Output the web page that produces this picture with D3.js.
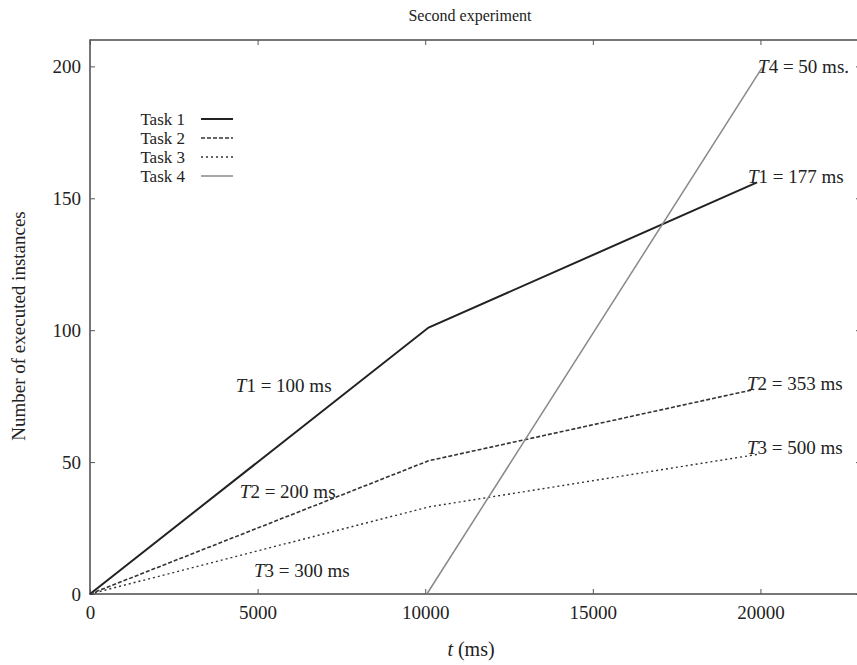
<!DOCTYPE html>
<html>
<head>
<meta charset="utf-8">
<script src="https://cdn.jsdelivr.net/npm/d3@7"></script>
<style>
  body { margin: 0; background: #fff; }
  text { font-family: "Liberation Serif", "DejaVu Serif", serif; fill: #222; }
</style>
</head>
<body>
<script>
var W = 857, H = 665;

// data
var tasks = ["Task 1", "Task 2", "Task 3", "Task 4"];
var task1 = [[0, 0], [10100, 101], [19900, 156]];
var task2 = [[0, 0], [10100, 50.5], [19800, 77.5]];
var task3 = [[0, 0], [10100, 33], [19950, 53]];
var task4 = [[10050, 0], [20050, 199.5]];
var xTicks = [0, 5000, 10000, 15000, 20000];
var yTicks = [0, 50, 100, 150, 200];
var notes = [
  {t: "1", v: "100 ms", x: 4350, y: 76.5},
  {t: "2", v: "200 ms", x: 4470, y: 36.4},
  {t: "3", v: "300 ms", x: 4890, y: 6.4},
  {t: "1", v: "177 ms", x: 19630, y: 155.8},
  {t: "2", v: "353 ms", x: 19600, y: 77.3},
  {t: "3", v: "500 ms", x: 19600, y: 53.1},
  {t: "4", v: "50 ms.", x: 19930, y: 197.5}
];

var styles = [
  {stroke: "#222", width: 2, dash: null},
  {stroke: "#333", width: 1.6, dash: "4,2"},
  {stroke: "#333", width: 1.4, dash: "2,3"},
  {stroke: "#888", width: 1.5, dash: null}
];

var svg = d3.select("body").append("svg")
  .attr("width", W).attr("height", H);

var x = d3.scaleLinear().domain([0, 23000]).range([90, 861]);
var y = d3.scaleLinear().domain([0, 210]).range([594, 40]);

// axes with inward ticks, mirrored on top/right
svg.append("g").attr("transform", "translate(0,594)")
  .call(d3.axisBottom(x).tickValues(xTicks).tickFormat(d3.format("d"))
    .tickSizeInner(-5).tickSizeOuter(0).tickPadding(12))
  .call(g => g.select(".domain").remove());
svg.append("g").attr("transform", "translate(0,40)")
  .call(d3.axisTop(x).tickValues(xTicks).tickSizeInner(-5).tickSizeOuter(0).tickFormat(""))
  .call(g => g.select(".domain").remove());
svg.append("g").attr("transform", "translate(90,0)")
  .call(d3.axisLeft(y).tickValues(yTicks).tickSizeInner(-5).tickSizeOuter(0).tickPadding(9))
  .call(g => g.select(".domain").remove());
svg.append("g").attr("transform", "translate(861,0)")
  .call(d3.axisRight(y).tickValues(yTicks).tickSizeInner(-5).tickSizeOuter(0).tickFormat(""))
  .call(g => g.select(".domain").remove());

svg.selectAll(".tick line").attr("stroke", "#555");
svg.selectAll(".tick text")
  .style("font-family", "Liberation Serif, serif")
  .style("font-size", "19px").attr("fill", "#222");

svg.append("rect")
  .attr("x", 90).attr("y", 40)
  .attr("width", 771).attr("height", 554)
  .attr("fill", "none").attr("stroke", "#555").attr("stroke-width", 1.6);

var line = d3.line().x(d => x(d[0])).y(d => y(d[1]));
[task1, task2, task3, task4].forEach(function (s, i) {
  svg.append("path").datum(s)
    .attr("d", line)
    .attr("fill", "none")
    .attr("stroke", styles[i].stroke)
    .attr("stroke-width", styles[i].width)
    .attr("stroke-dasharray", styles[i].dash);
});

// annotations
notes.forEach(function (n) {
  var t = svg.append("text")
    .attr("x", x(n.x)).attr("y", y(n.y))
    .style("font-size", "19px");
  t.append("tspan").style("font-style", "italic").text("T");
  t.append("tspan").text(n.t + " = " + n.v);
});

// legend
var leg = svg.append("g");
tasks.forEach(function (name, i) {
  var ly = 119 + i * 19;
  leg.append("text").attr("x", 185).attr("y", ly + 6)
    .attr("text-anchor", "end").style("font-size", "17px").text(name);
  leg.append("line")
    .attr("x1", 201).attr("x2", 233).attr("y1", ly).attr("y2", ly)
    .attr("stroke", styles[i].stroke)
    .attr("stroke-width", styles[i].width)
    .attr("stroke-dasharray", styles[i].dash);
});

svg.append("text").attr("x", 470).attr("y", 21)
  .attr("text-anchor", "middle").style("font-size", "16px").text("Second experiment");

var xl = svg.append("text").attr("x", 471).attr("y", 656)
  .attr("text-anchor", "middle").style("font-size", "20px");
xl.append("tspan").style("font-style", "italic").text("t");
xl.append("tspan").text(" (ms)");

svg.append("text")
  .attr("transform", "translate(25,326) rotate(-90)")
  .attr("text-anchor", "middle").style("font-size", "19px")
  .text("Number of executed instances");
</script>
</body>
</html>
